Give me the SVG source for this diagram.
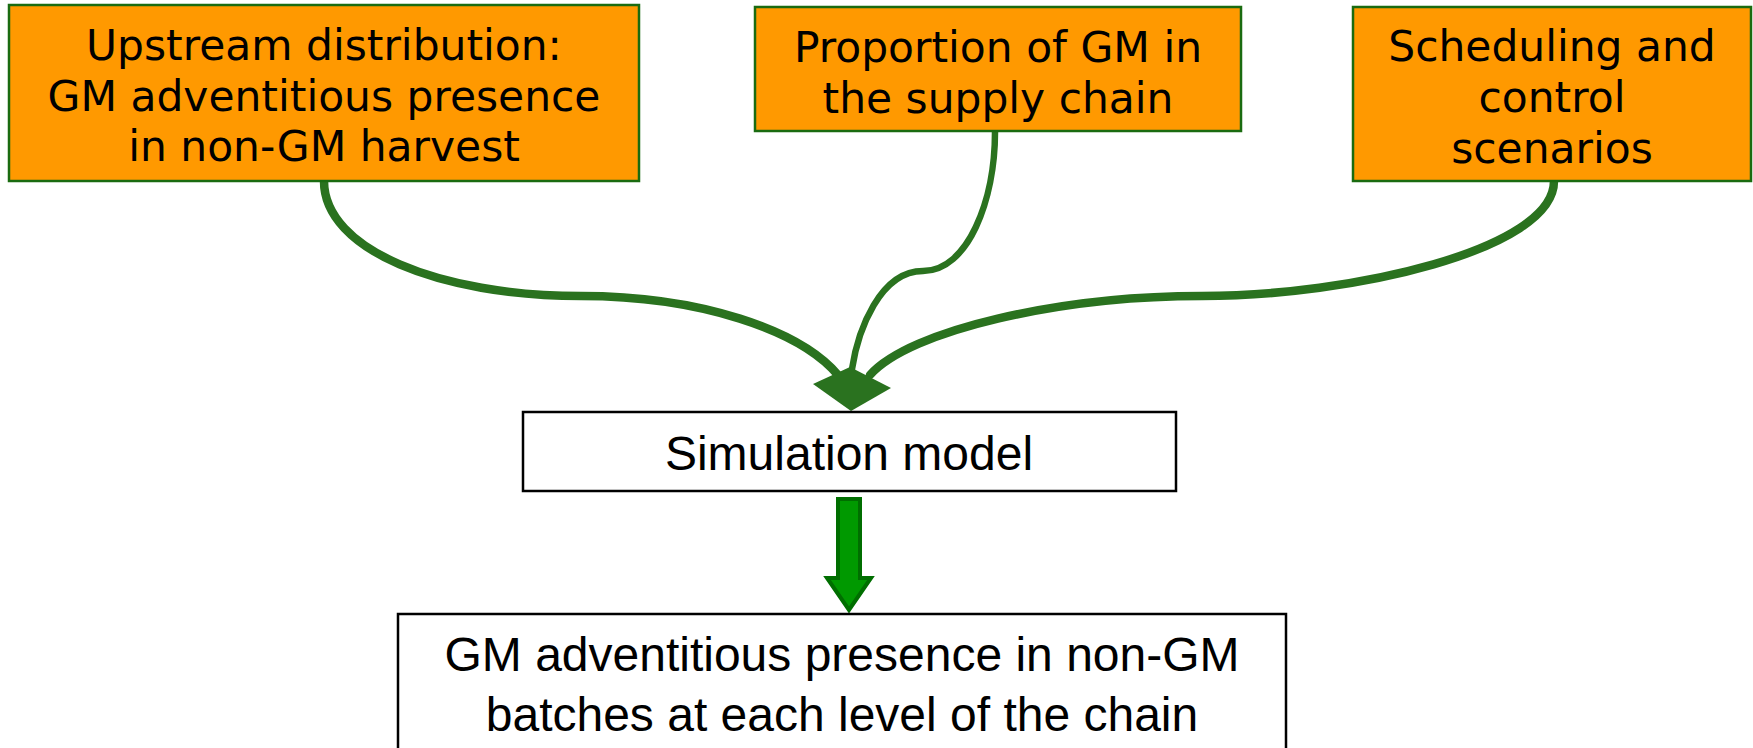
<svg xmlns="http://www.w3.org/2000/svg" width="1753" height="748" viewBox="0 0 1753 748">
<style>
.in{fill:#ff9900;stroke:#1a6b10;stroke-width:2.5}
.box{fill:#ffffff;stroke:#000000;stroke-width:2.5}
.t1{font-family:"DejaVu Sans",Verdana,sans-serif;font-size:42.4px;fill:#000;text-anchor:middle}
.t2{font-family:"Liberation Sans",Arial,sans-serif;font-size:48px;fill:#000;text-anchor:middle}
.br{fill:none;stroke:#2a721f;stroke-linecap:round}
</style>
<rect width="1753" height="748" fill="#ffffff"/>
<g id="connectors">
<path class="br" stroke-width="8.5" d="M324,181 C324,250 440,296 581,296 C700,296 800,330 838,375"/>
<path class="br" stroke-width="6.5" d="M995,132 C995,200 968,271 923,271 C880,271 858,330 852,369"/>
<path class="br" stroke-width="8.5" d="M1554,181 C1554,250 1350,296 1202,296 C1060,296 910,330 870,375"/>
<polygon points="850,367 891,388 851,411 813,384" fill="#2a721f"/>
<polygon points="838,499 860,499 860,578 871,578 849,610 827,578 838,578" fill="#009900" stroke="#006e00" stroke-width="4"/>
</g>
<g id="n-upstream">
<rect class="in" x="9" y="5" width="630" height="176"/>
<text class="t1" x="324" y="60">Upstream distribution:</text>
<text class="t1" x="324" y="111">GM adventitious presence</text>
<text class="t1" x="324" y="161">in non-GM harvest</text>
</g>
<g id="n-proportion">
<rect class="in" x="755" y="7" width="486" height="124"/>
<text class="t1" x="998" y="62">Proportion of GM in</text>
<text class="t1" x="998" y="113">the supply chain</text>
</g>
<g id="n-scheduling">
<rect class="in" x="1353" y="7" width="398" height="174"/>
<text class="t1" x="1552" y="61">Scheduling and</text>
<text class="t1" x="1552" y="112">control</text>
<text class="t1" x="1552" y="163">scenarios</text>
</g>
<g id="n-simulation">
<rect class="box" x="523" y="412" width="653" height="79"/>
<text class="t2" x="849" y="470">Simulation model</text>
</g>
<g id="n-output">
<rect class="box" x="398" y="614" width="888" height="150"/>
<text class="t2" x="842" y="671">GM adventitious presence in non-GM</text>
<text class="t2" x="842" y="731">batches at each level of the chain</text>
</g>
</svg>
